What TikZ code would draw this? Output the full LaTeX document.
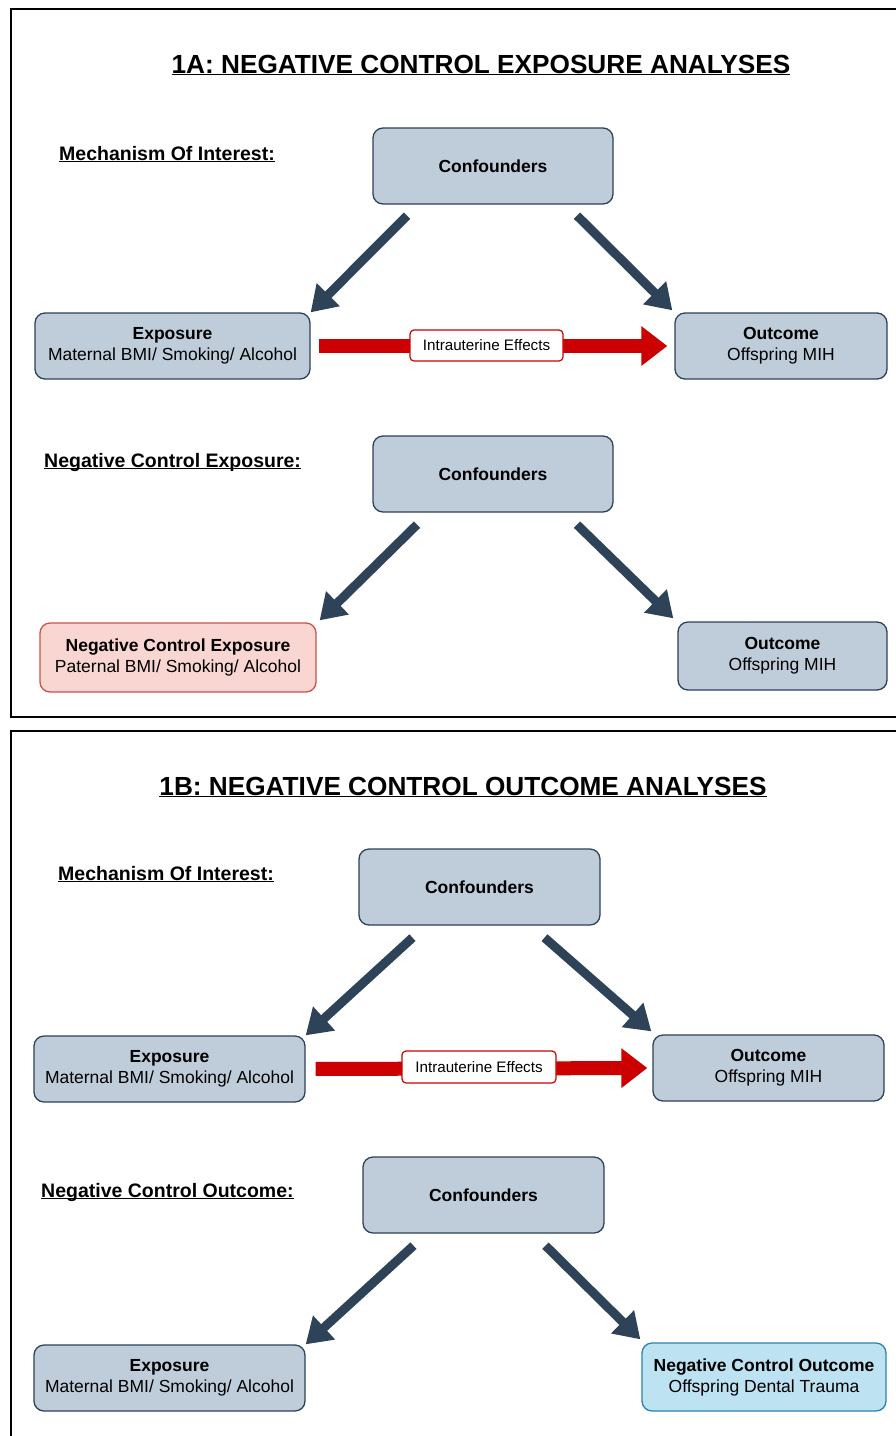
\documentclass[tikz,border=0pt]{standalone}
\usepackage{fontspec}
\setmainfont{Liberation Sans}
\usetikzlibrary{arrows.meta,calc}
\definecolor{boxfill}{HTML}{BFCDDB}
\definecolor{boxline}{HTML}{2C4257}
\definecolor{ncefill}{HTML}{F9D6D2}
\definecolor{nceline}{HTML}{C9534A}
\definecolor{ncofill}{HTML}{BDE3F3}
\definecolor{ncoline}{HTML}{2A84AE}
\definecolor{arrdark}{HTML}{2F4358}
\definecolor{redarr}{HTML}{CC0000}
\tikzset{
  box/.style={draw=boxline, fill=boxfill, line width=1.3pt, rounded corners=10pt,
    inner sep=0pt, align=center, font=\fontsize{17.5}{21}\selectfont},
  ncebox/.style={box, draw=nceline, fill=ncefill},
  ncobox/.style={box, draw=ncoline, fill=ncofill},
  effbox/.style={draw=redarr, fill=white, line width=1.2pt, rounded corners=4pt,
    inner sep=0pt, font=\fontsize{15.2}{18}\selectfont},
  darr/.style={draw=arrdark, line width=9pt, -{Triangle[width=31pt,length=25pt]}},
  rarr/.style={draw=redarr, line width=14pt, -{Triangle[width=38pt,length=26pt]}},
  ttl/.style={anchor=base, inner sep=0pt, font=\fontsize{26.2}{30}\selectfont\bfseries},
  lbl/.style={anchor=base west, inner sep=0pt, font=\fontsize{19.5}{22}\selectfont\bfseries},
  frame/.style={draw=black, line width=2.6pt},
}
\begin{document}
\begin{tikzpicture}[x=1pt,y=-1pt]
\useasboundingbox (0,0) rectangle (896,1436);
\clip (0,0) rectangle (896,1436);
% frames
\draw[frame] (11,9) rectangle (910,717);
\draw[frame] (11,731) rectangle (910,1450);

% ===== Panel 1A =====
\node[ttl] (t1) at (481,73) {\underline{\smash{1A: NEGATIVE CONTROL EXPOSURE ANALYSES}}};
\node[lbl] (l1) at (59,160) {\underline{\smash{Mechanism Of Interest:}}};
\node[box, minimum width=240pt, minimum height=76pt] (c1) at (493,166) {\textbf{Confounders}};
\node[box, minimum width=275pt, minimum height=66pt] (e1) at (172.5,346) {\textbf{Exposure}\\Maternal BMI/ Smoking/ Alcohol};
\node[box, minimum width=212pt, minimum height=66pt] (o1) at (781,346) {\textbf{Outcome}\\Offspring MIH};
\draw[darr] ($(c1.south)+(-86,11)$) -- (e1.north east);
\draw[darr] ($(c1.south)+(84,11)$) -- ($(o1.north west)+(-2,-2)$);
\draw[rarr, shorten <=8pt, shorten >=7pt] (e1.east) -- (o1.west);
\node[effbox, minimum width=153pt, minimum height=31pt] (i1) at (486.5,345.5) {Intrauterine Effects};

\node[lbl] (l2) at (44,467) {\underline{\smash{Negative Control Exposure:}}};
\node[box, minimum width=240pt, minimum height=76pt] (c2) at (493,474) {\textbf{Confounders}};
\node[ncebox, minimum width=276pt, minimum height=69pt] (n1) at (178,657.5) {\textbf{Negative Control Exposure}\\Paternal BMI/ Smoking/ Alcohol};
\node[box, minimum width=209pt, minimum height=68pt] (o2) at (782.5,656) {\textbf{Outcome}\\Offspring MIH};
\draw[darr] ($(c2.south)+(-76,12)$) -- ($(n1.north east)+(3,-2)$);
\draw[darr] ($(c2.south)+(84,12)$) -- ($(o2.north west)+(-4,-3)$);

% ===== Panel 1B =====
\node[ttl] (t2) at (463,795) {\underline{\smash{1B: NEGATIVE CONTROL OUTCOME ANALYSES}}};
\node[lbl] (l3) at (58,880) {\underline{\smash{Mechanism Of Interest:}}};
\node[box, minimum width=241pt, minimum height=76pt] (c3) at (479.5,887) {\textbf{Confounders}};
\node[box, minimum width=271pt, minimum height=66pt] (e3) at (169.5,1069) {\textbf{Exposure}\\Maternal BMI/ Smoking/ Alcohol};
\node[box, minimum width=231pt, minimum height=66pt] (o3) at (768.5,1068) {\textbf{Outcome}\\Offspring MIH};
\draw[darr] ($(c3.south)+(-67,12)$) -- (e3.north east);
\draw[darr] ($(c3.south)+(65,12)$) -- ($(o3.north west)+(-1,-3)$);
\draw[rarr, shorten <=10pt, shorten >=5pt] (e3.east) -- (o3.west);
\node[effbox, minimum width=154pt, minimum height=32pt] (i2) at (479,1067) {Intrauterine Effects};

\node[lbl] (l4) at (41,1197) {\underline{\smash{Negative Control Outcome:}}};
\node[box, minimum width=241pt, minimum height=76pt] (c4) at (483.5,1195) {\textbf{Confounders}};
\node[box, minimum width=271pt, minimum height=66pt] (e4) at (169.5,1378) {\textbf{Exposure}\\Maternal BMI/ Smoking/ Alcohol};
\node[ncobox, minimum width=244pt, minimum height=68pt] (n2) at (764,1377) {\textbf{Negative Control Outcome}\\Offspring Dental Trauma};
\draw[darr] ($(c4.south)+(-70,12)$) -- (e4.north east);
\draw[darr] ($(c4.south)+(62,12)$) -- ($(n2.north west)+(-1,-3)$);
\end{tikzpicture}
\end{document}
